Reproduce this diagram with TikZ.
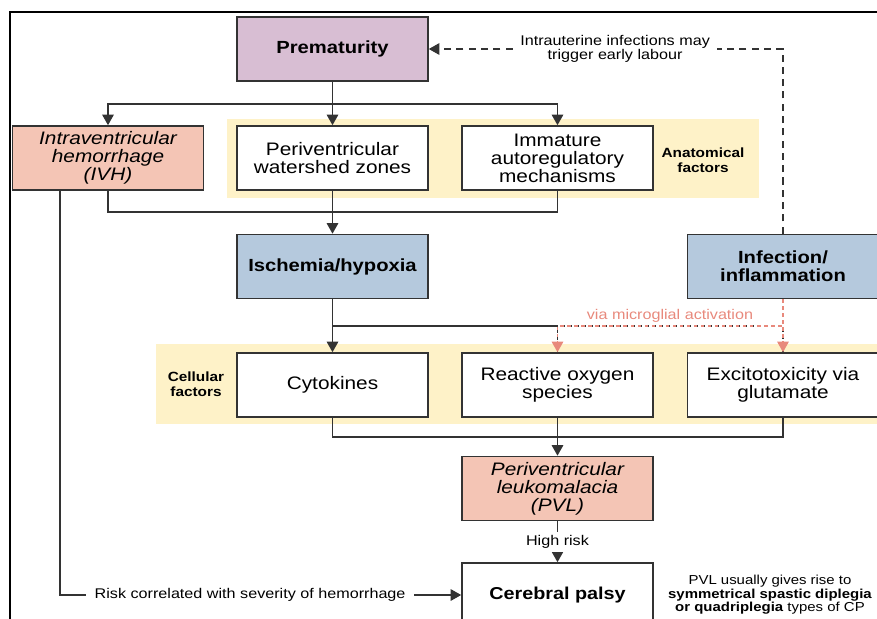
\documentclass[tikz,border=0pt]{standalone}
\usepackage{fontspec}
\setmainfont{Liberation Sans}[FakeStretch=1.15]
\usetikzlibrary{arrows.meta,calc}
\definecolor{premfill}{HTML}{D8BED3}
\definecolor{lesionfill}{HTML}{F4C5B5}
\definecolor{causefill}{HTML}{B5C9DD}
\definecolor{bandfill}{HTML}{FEF2C8}
\definecolor{boxline}{HTML}{333333}
\definecolor{microglia}{HTML}{E8897C}
\begin{document}
\begin{tikzpicture}[x=0.02cm,y=-0.02cm]
    \tikzset{
      box/.style={draw=boxline,line width=0.9pt,minimum width=3.82cm,
        minimum height=1.28cm,align=center,inner sep=1pt,
        font=\fontsize{10.3}{10.2}\selectfont},
      keybox/.style={box,font=\fontsize{10}{10.4}\selectfont\bfseries},
      note/.style={align=center,font=\fontsize{8}{8}\selectfont},
      bandnote/.style={align=center,font=\fontsize{7.6}{8.4}\selectfont\bfseries},
      link/.style={draw=boxline,line width=0.9pt},
      arr/.style={link,-{Triangle[length=6pt,width=6.5pt]}},
      dasharr/.style={arr,dash pattern=on 4pt off 3pt},
      pinkarr/.style={draw=microglia,line width=0.9pt,dash pattern=on 2pt off 2pt,
        -{Triangle[length=6pt,width=6.5pt]}},
    }
    \clip (0,0) rectangle (877,619);
    % page frame
    \draw[line width=0.7pt] (877,12) -- (10,12) -- (10,619);
    % factor bands
    \fill[bandfill] (227,119) rectangle (759,198);
    \fill[bandfill] (156,344) rectangle (900,424);
    \node[bandnote] (anatlbl) at (703,160) {Anatomical\\factors};
    \node[bandnote] (celllbl) at (196,384) {Cellular\\factors};
    % boxes
    \node[keybox,fill=premfill] (prem) at (332.5,49) {Prematurity};
    \node[box,fill=lesionfill,font=\fontsize{10.3}{10.2}\selectfont\itshape] (ivh) at (108,158)
      {Intraventricular\\hemorrhage\\(IVH)};
    \node[box,fill=white] (pwz) at (332.5,158) {Periventricular\\watershed zones};
    \node[box,fill=white] (imm) at (557.5,158) {Immature\\autoregulatory\\mechanisms};
    \node[keybox,fill=causefill] (isch) at (332.5,266.5) {Ischemia/hypoxia};
    \node[keybox,fill=causefill] (infl) at (783,266.5) {Infection/\\inflammation};
    \node[box,fill=white] (cyt) at (332.5,385) {Cytokines};
    \node[box,fill=white] (ros) at (557.5,385) {Reactive oxygen\\species};
    \node[box,fill=white] (exc) at (783,385) {Excitotoxicity via\\glutamate};
    \node[box,fill=lesionfill,font=\fontsize{10.3}{10.2}\selectfont\itshape] (pvl) at (557.5,488.5)
      {Periventricular\\leukomalacia\\(PVL)};
    \node[keybox,fill=white,font=\fontsize{9.8}{12}\selectfont\bfseries] (cp) at (557.5,595) {Cerebral palsy};
    \node[note,font=\fontsize{7.4}{7.7}\selectfont] (cpnote) at (770,595)
      {PVL usually gives rise to\\\textbf{symmetrical spastic diplegia}\\\textbf{or quadriplegia} types of CP};
    % split and join points
    \coordinate (split1) at (332.5,104);
    \coordinate (join1) at (332.5,212);
    \coordinate (split2) at (332.5,326);
    \coordinate (join2) at (557.5,437);
    \coordinate (ivhleg) at ($(ivh.south west)!0.25!(ivh.south east)$);
    % prematurity to anatomical factors
    \draw[arr] (prem) -- (pwz);
    \draw[arr] (split1) -| (ivh.north);
    \draw[arr] (split1) -| (imm.north);
    \draw[link] (ivh.south) |- (join1) -| (imm.south);
    \draw[arr] (pwz) -- (isch);
    % infection feeds back to prematurity
    \draw[dasharr] (infl.north) |- node[note,fill=white,pos=0.737,inner sep=4pt] (labourlbl)
      {Intrauterine infections may\\trigger early labour} (prem.east);
    % ischemia to cellular factors
    \draw[arr] (isch) -- (cyt);
    \draw[link] (split2) -- (ros.north |- split2);
    \draw[link,dash pattern=on 2pt off 2pt,dash phase=2pt] (ros.north |- split2) -- (ros.north);
    \draw[link,dash pattern=on 2pt off 2pt,dash phase=2pt] (ros.north |- split2) -| (exc.north);
    \draw[pinkarr] (infl.south) |- (ros.north |- split2) -- (ros.north);
    \draw[pinkarr] (infl.south) -- (exc.north);
    \node[note,text=microglia] (mglbl) at (670,316) {via microglial activation};
    % cellular factors to PVL and CP
    \draw[link] (cyt.south) |- (exc.south |- join2) -- (exc.south);
    \draw[arr] (ros) -- (pvl);
    \draw[arr] (pvl) -- node[note,fill=white,inner sep=2pt] (risklbl) {High risk} (cp);
    \draw[arr] (ivhleg) |- node[note,fill=white,pos=0.737,inner sep=5pt] (ivhlbl)
      {Risk correlated with severity of hemorrhage} (cp.west);
\end{tikzpicture}
\end{document}
